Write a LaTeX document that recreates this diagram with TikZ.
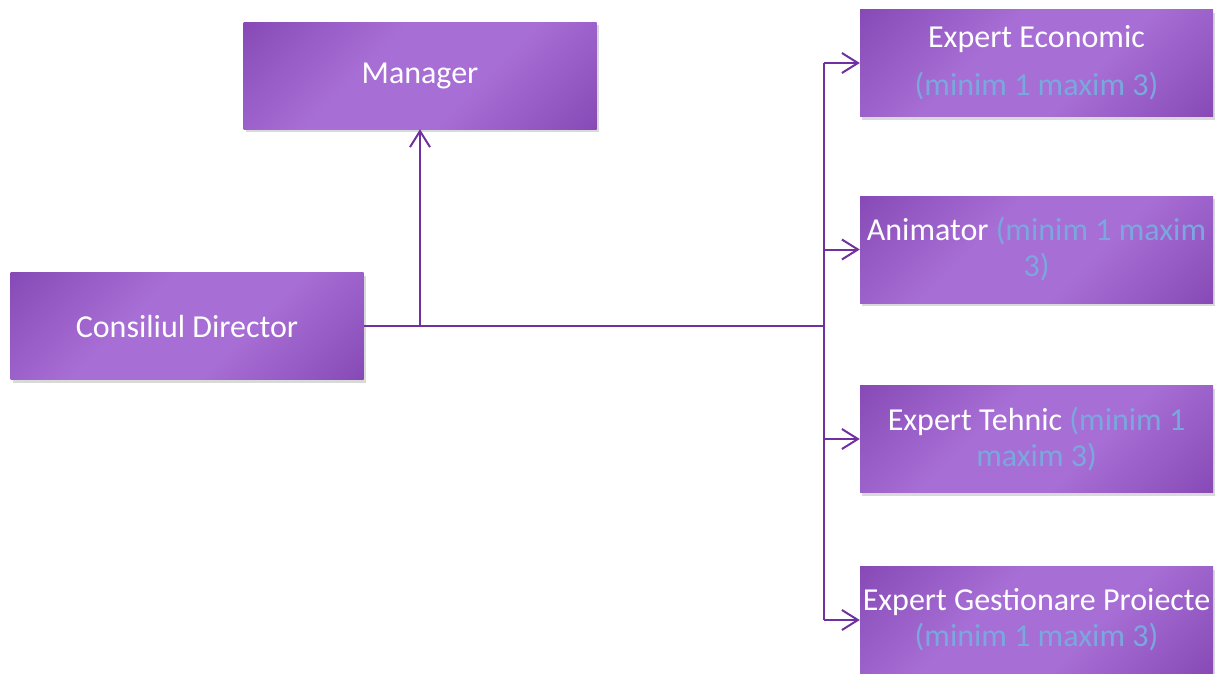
\documentclass[tikz,border=0pt]{standalone}
\usepackage{fontspec}
\setmainfont{Carlito}
\usetikzlibrary{shadows,arrows.meta}
\definecolor{pdark}{RGB}{112,48,160}
\definecolor{plight}{RGB}{167,110,213}
\definecolor{ptext}{RGB}{122,168,222}
\pgfdeclareverticalshading{purpgrad}{100bp}{color(0bp)=(pdark); color(20bp)=(pdark!45!plight); color(40bp)=(plight); color(60bp)=(plight); color(80bp)=(pdark!45!plight); color(100bp)=(pdark)}
\begin{document}
\begin{tikzpicture}[x=1pt,y=-1pt,
  box/.style={rectangle, minimum width=353pt, minimum height=107pt, inner sep=1pt,
    shading=purpgrad, shading angle=45,
    drop shadow={shadow xshift=2pt, shadow yshift=-3pt, opacity=0.3},
    text=white, align=center, font=\fontsize{32}{36}\selectfont},
  conn/.style={draw=pdark, line width=2pt},
  arr/.style={conn, -{Straight Barb[length=16pt,width=20pt]}}]
\useasboundingbox (0,0) rectangle (1221,673);
\node[box] (mgr) at (420,75.5) {Manager};
\node[box] (cd) at (187,326) {Consiliul Director};
\node[box] (ee) at (1036.5,63) {Expert Economic\\[12pt]\textcolor{ptext}{(minim 1 maxim 3)}};
\node[box] (an) at (1036.5,249.5) {Animator \textcolor{ptext}{(minim 1 maxim}\\\textcolor{ptext}{3)}};
\node[box] (et) at (1036.5,439) {Expert Tehnic \textcolor{ptext}{(minim 1}\\\textcolor{ptext}{maxim 3)}};
\node[box] (eg) at (1036.5,620) {Expert Gestionare Proiecte\\\textcolor{ptext}{(minim 1 maxim 3)}};
\coordinate (mid) at (824,326);
\coordinate (mbase) at (420,326);
\coordinate (tt) at (824,63);
\coordinate (ta) at (824,249.5);
\coordinate (te) at (824,439);
\coordinate (tb) at (824,620);
\draw[conn] (cd.east) -- (mid);
\draw[conn] (tt) -- (tb);
\draw[arr] (mbase) -- (mgr.south);
\draw[arr] (tt) -- (ee.west);
\draw[arr] (ta) -- (an.west);
\draw[arr] (te) -- (et.west);
\draw[arr] (tb) -- (eg.west);
\end{tikzpicture}
\end{document}
